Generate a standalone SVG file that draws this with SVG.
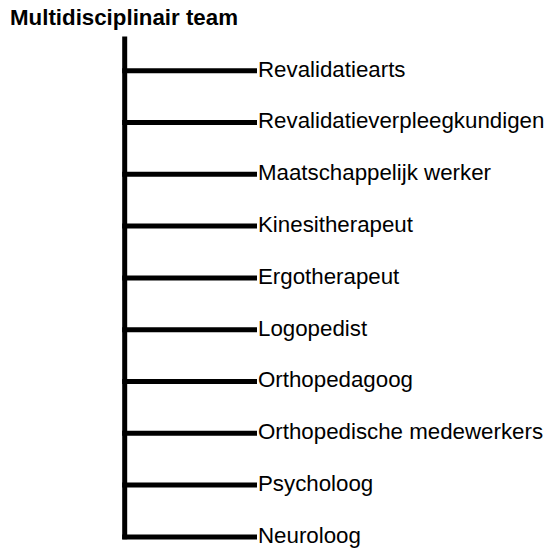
<svg xmlns="http://www.w3.org/2000/svg" width="548" height="548" viewBox="0 0 548 548">
<style>
.t{font-family:"Liberation Sans",Arial,sans-serif;font-size:22.3px;fill:#000}
.h{font-weight:bold}
.c{stroke:#000;stroke-width:5;fill:none}
</style>
<rect width="548" height="548" fill="#fff"/>
<g id="title"><text class="t h" x="10" y="25">Multidisciplinair team</text></g>
<g id="connectors">
<line class="c" x1="124.7" y1="36.5" x2="124.7" y2="539.2"/>
<line class="c" x1="122.2" y1="70.7" x2="257" y2="70.7"/>
<line class="c" x1="122.2" y1="122.5" x2="257" y2="122.5"/>
<line class="c" x1="122.2" y1="174.3" x2="257" y2="174.3"/>
<line class="c" x1="122.2" y1="226.1" x2="257" y2="226.1"/>
<line class="c" x1="122.2" y1="277.9" x2="257" y2="277.9"/>
<line class="c" x1="122.2" y1="329.7" x2="257" y2="329.7"/>
<line class="c" x1="122.2" y1="381.5" x2="257" y2="381.5"/>
<line class="c" x1="122.2" y1="433.3" x2="257" y2="433.3"/>
<line class="c" x1="122.2" y1="485.1" x2="257" y2="485.1"/>
<line class="c" x1="122.2" y1="536.9" x2="257" y2="536.9"/>
</g>
<g id="n1"><text class="t" x="258" y="76.5">Revalidatiearts</text></g>
<g id="n2"><text class="t" x="258" y="128.3">Revalidatieverpleegkundigen</text></g>
<g id="n3"><text class="t" x="258" y="180.1">Maatschappelijk werker</text></g>
<g id="n4"><text class="t" x="258" y="231.9">Kinesitherapeut</text></g>
<g id="n5"><text class="t" x="258" y="283.7">Ergotherapeut</text></g>
<g id="n6"><text class="t" x="258" y="335.5">Logopedist</text></g>
<g id="n7"><text class="t" x="258" y="387.3">Orthopedagoog</text></g>
<g id="n8"><text class="t" x="258" y="439.1">Orthopedische medewerkers</text></g>
<g id="n9"><text class="t" x="258" y="490.9">Psycholoog</text></g>
<g id="n10"><text class="t" x="258" y="542.7">Neuroloog</text></g>
</svg>
